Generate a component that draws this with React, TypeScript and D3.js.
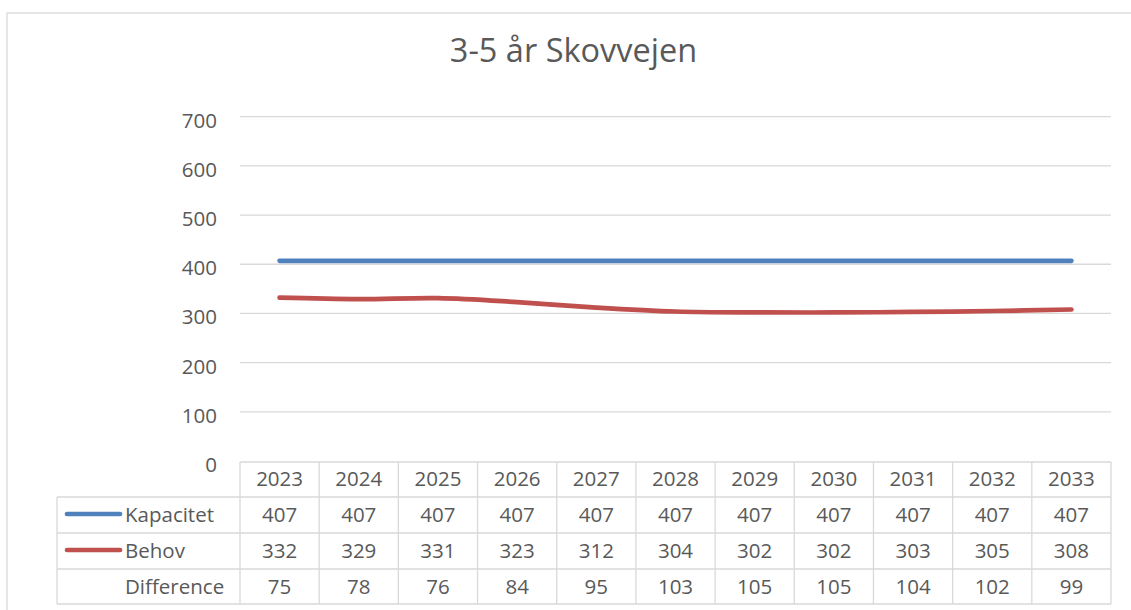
import React from "react";
import * as d3 from "d3";

const title = "3-5 år Skovvejen";
const years = ["2023", "2024", "2025", "2026", "2027", "2028", "2029", "2030", "2031", "2032", "2033"];
const kapacitet = [407, 407, 407, 407, 407, 407, 407, 407, 407, 407, 407];
const behov = [332, 329, 331, 323, 312, 304, 302, 302, 303, 305, 308];
const difference = [75, 78, 76, 84, 95, 103, 105, 105, 104, 102, 99];
const yTicks = [0, 100, 200, 300, 400, 500, 600, 700];

const seriesRows = [
  { name: "Kapacitet", values: kapacitet, color: "#4F81BD" },
  { name: "Behov", values: behov, color: "#C0504D" },
  { name: "Difference", values: difference, color: null as string | null },
];

const W = 1131;
const H = 610;
const plotLeft = 240;
const plotRight = 1111;
const plotTop = 116.7;
const plotBottom = 461;
const rowEdges = [462, 497, 533, 569, 604];
const labelLeft = 57;
const textColor = "#595959";
const gridColor = "#D9D9D9";
const font = "'Open Sans', 'Noto Sans', sans-serif";

export default function App() {
  const x = d3.scaleBand<string>().domain(years).range([plotLeft, plotRight]);
  const y = d3.scaleLinear().domain([0, 700]).range([plotBottom, plotTop]);
  const cx = (yr: string) => (x(yr) as number) + x.bandwidth() / 2;

  const line = d3
    .line<number>()
    .x((_, i) => cx(years[i]))
    .y((v) => y(v))
    .curve(d3.curveCatmullRom.alpha(0.5));

  return (
    <svg
      width={W}
      height={H}
      style={{ position: "absolute", left: 0, top: 0, background: "#fff" }}
      fontFamily={font}
    >
      <rect x={0} y={0} width={W} height={H} fill="#fff" />
      <rect x={7} y={13} width={W + 20} height={H + 20} fill="none" stroke={gridColor} strokeWidth={1.3} />
      <text x={573.5} y={62} textAnchor="middle" fontSize={32.5} fill={textColor}>
        {title}
      </text>

      {yTicks.map((t) => (
        <g key={t}>
          {t > 0 && (
            <line x1={plotLeft} x2={plotRight} y1={y(t)} y2={y(t)} stroke={gridColor} strokeWidth={1.3} />
          )}
          <text x={217} y={y(t) + 11} textAnchor="end" fontSize={20.5} fill={textColor}>
            {t}
          </text>
        </g>
      ))}

      {/* table grid */}
      <g stroke={gridColor} strokeWidth={1.3} fill="none">
        <line x1={plotLeft} x2={plotRight} y1={rowEdges[0]} y2={rowEdges[0]} />
        {rowEdges.slice(1).map((ry) => (
          <line key={ry} x1={labelLeft} x2={plotRight} y1={ry} y2={ry} />
        ))}
        <line x1={labelLeft} x2={labelLeft} y1={rowEdges[1]} y2={rowEdges[4]} />
        {years.map((yr) => (
          <line key={yr} x1={x(yr)} x2={x(yr)} y1={rowEdges[0]} y2={rowEdges[4]} />
        ))}
        <line x1={plotRight} x2={plotRight} y1={rowEdges[0]} y2={rowEdges[4]} />
      </g>

      {years.map((yr) => (
        <text key={yr} x={cx(yr)} y={486} textAnchor="middle" fontSize={20.5} fill={textColor}>
          {yr}
        </text>
      ))}

      {seriesRows.map((s, r) => {
        const base = rowEdges[r + 1] + 24.5;
        const mid = (rowEdges[r + 1] + rowEdges[r + 2]) / 2;
        return (
          <g key={s.name}>
            {s.color && (
              <line x1={67} x2={120} y1={mid - 1} y2={mid - 1} stroke={s.color} strokeWidth={4.7} strokeLinecap="round" />
            )}
            <text x={125} y={base} fontSize={20.5} fill={textColor}>
              {s.name}
            </text>
            {s.values.map((v, i) => (
              <text key={i} x={cx(years[i])} y={base} textAnchor="middle" fontSize={20.5} fill={textColor}>
                {v}
              </text>
            ))}
          </g>
        );
      })}

      {seriesRows
        .filter((s) => s.color)
        .map((s) => (
          <path
            key={s.name}
            d={line(s.values) as string}
            fill="none"
            stroke={s.color as string}
            strokeWidth={4.7}
            strokeLinecap="round"
            strokeLinejoin="round"
          />
        ))}
    </svg>
  );
}
